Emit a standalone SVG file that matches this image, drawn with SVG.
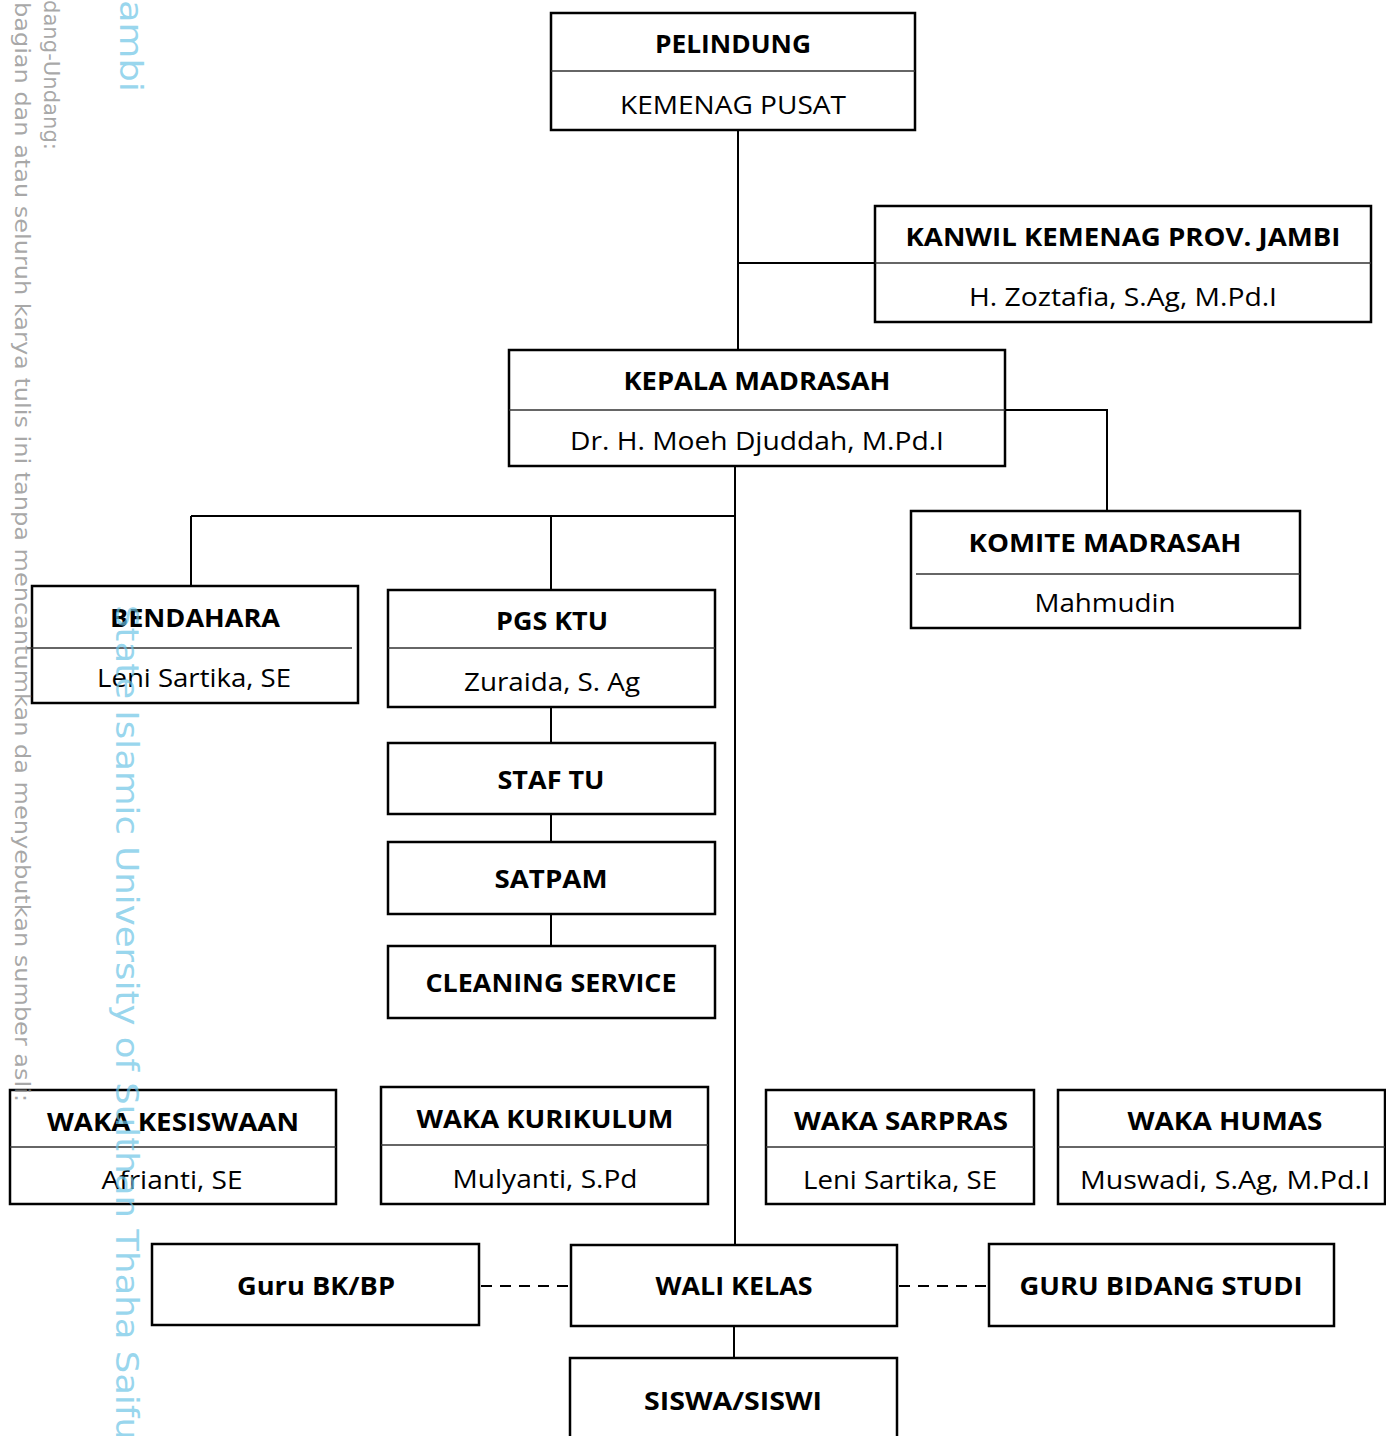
<svg xmlns="http://www.w3.org/2000/svg" width="1386" height="1436" viewBox="0 0 1386 1436">
<style>
.box{fill:#fff;stroke:#000;stroke-width:2.5}
.div{stroke:#333;stroke-width:1.5}
.t{font-family:"Open Sans","Liberation Sans",sans-serif;font-size:25px;font-weight:700;fill:#000;text-anchor:middle}
.n{font-family:"Open Sans","Liberation Sans",sans-serif;font-size:25px;font-weight:400;fill:#000;text-anchor:middle}
.c{fill:none;stroke:#000;stroke-width:2}
.d{fill:none;stroke:#000;stroke-width:2;stroke-dasharray:11 8}
.wg{font-family:"DejaVu Sans",sans-serif;font-size:22px;fill:#8c8c8c;fill-opacity:0.75}
.wb{font-family:"DejaVu Sans",sans-serif;font-size:32px;fill:#6cc4e6;fill-opacity:0.7}
</style>
<g id="connectors">
<path class="c" d="M738,130 V350"/>
<path class="c" d="M738,263 H875"/>
<path class="c" d="M1005,410 H1107 V511"/>
<path class="c" d="M735,466 V1245"/>
<path class="c" d="M191,516 H735"/>
<path class="c" d="M191,516 V590"/>
<path class="c" d="M551,516 V590"/>
<path class="c" d="M551,707 V743"/>
<path class="c" d="M551,814 V842"/>
<path class="c" d="M551,914 V946"/>
<path class="c" d="M734,1326 V1358"/>
<path class="d" d="M481,1286 H571"/>
<path class="d" d="M899,1286 H989"/>
</g>
<g id="pelindung">
<rect class="box" x="551" y="13" width="364" height="117"/>
<line class="div" x1="551" y1="71" x2="915" y2="71"/>
<text class="t" x="733" y="53" textLength="156" lengthAdjust="spacingAndGlyphs">PELINDUNG</text>
<text class="n" x="733" y="114" textLength="226" lengthAdjust="spacingAndGlyphs">KEMENAG PUSAT</text>
</g>
<g id="kanwil">
<rect class="box" x="875" y="206" width="496" height="116"/>
<line class="div" x1="875" y1="263" x2="1371" y2="263"/>
<text class="t" x="1123" y="246" textLength="435" lengthAdjust="spacingAndGlyphs">KANWIL KEMENAG PROV. JAMBI</text>
<text class="n" x="1123" y="306" textLength="308" lengthAdjust="spacingAndGlyphs">H. Zoztafia, S.Ag, M.Pd.I</text>
</g>
<g id="kepala">
<rect class="box" x="509" y="350" width="496" height="116"/>
<line class="div" x1="509" y1="410" x2="1005" y2="410"/>
<text class="t" x="757" y="390" textLength="267" lengthAdjust="spacingAndGlyphs">KEPALA MADRASAH</text>
<text class="n" x="757" y="450" textLength="374" lengthAdjust="spacingAndGlyphs">Dr. H. Moeh Djuddah, M.Pd.I</text>
</g>
<g id="komite">
<rect class="box" x="911" y="511" width="389" height="117"/>
<line class="div" x1="916" y1="574" x2="1300" y2="574"/>
<text class="t" x="1105" y="552" textLength="273" lengthAdjust="spacingAndGlyphs">KOMITE MADRASAH</text>
<text class="n" x="1105" y="612" textLength="141" lengthAdjust="spacingAndGlyphs">Mahmudin</text>
</g>
<g id="bendahara">
<rect class="box" x="32" y="586" width="326" height="117"/>
<line class="div" x1="27" y1="648" x2="352" y2="648"/>
<text class="t" x="195" y="627" textLength="170" lengthAdjust="spacingAndGlyphs">BENDAHARA</text>
<text class="n" x="194" y="687" textLength="194" lengthAdjust="spacingAndGlyphs">Leni Sartika, SE</text>
</g>
<g id="pgsktu">
<rect class="box" x="388" y="590" width="327" height="117"/>
<line class="div" x1="388" y1="648" x2="715" y2="648"/>
<text class="t" x="552" y="630" textLength="112" lengthAdjust="spacingAndGlyphs">PGS KTU</text>
<text class="n" x="552" y="691" textLength="176" lengthAdjust="spacingAndGlyphs">Zuraida, S. Ag</text>
</g>
<g id="staftu">
<rect class="box" x="388" y="743" width="327" height="71"/>
<text class="t" x="551" y="789" textLength="107" lengthAdjust="spacingAndGlyphs">STAF TU</text>
</g>
<g id="satpam">
<rect class="box" x="388" y="842" width="327" height="72"/>
<text class="t" x="551" y="888" textLength="113" lengthAdjust="spacingAndGlyphs">SATPAM</text>
</g>
<g id="cleaning">
<rect class="box" x="388" y="946" width="327" height="72"/>
<text class="t" x="551" y="992" textLength="251" lengthAdjust="spacingAndGlyphs">CLEANING SERVICE</text>
</g>
<g id="kesiswaan">
<rect class="box" x="10" y="1090" width="326" height="114"/>
<line class="div" x1="10" y1="1147" x2="336" y2="1147"/>
<text class="t" x="173" y="1131" textLength="252" lengthAdjust="spacingAndGlyphs">WAKA KESISWAAN</text>
<text class="n" x="172" y="1189" textLength="141" lengthAdjust="spacingAndGlyphs">Afrianti, SE</text>
</g>
<g id="kurikulum">
<rect class="box" x="381" y="1087" width="327" height="117"/>
<line class="div" x1="381" y1="1145" x2="708" y2="1145"/>
<text class="t" x="545" y="1128" textLength="257" lengthAdjust="spacingAndGlyphs">WAKA KURIKULUM</text>
<text class="n" x="545" y="1188" textLength="185" lengthAdjust="spacingAndGlyphs">Mulyanti, S.Pd</text>
</g>
<g id="sarpras">
<rect class="box" x="766" y="1090" width="268" height="114"/>
<line class="div" x1="766" y1="1147" x2="1034" y2="1147"/>
<text class="t" x="901" y="1130" textLength="214" lengthAdjust="spacingAndGlyphs">WAKA SARPRAS</text>
<text class="n" x="900" y="1189" textLength="194" lengthAdjust="spacingAndGlyphs">Leni Sartika, SE</text>
</g>
<g id="humas">
<rect class="box" x="1058" y="1090" width="327" height="114"/>
<line class="div" x1="1058" y1="1147" x2="1385" y2="1147"/>
<text class="t" x="1225" y="1130" textLength="195" lengthAdjust="spacingAndGlyphs">WAKA HUMAS</text>
<text class="n" x="1225" y="1189" textLength="290" lengthAdjust="spacingAndGlyphs">Muswadi, S.Ag, M.Pd.I</text>
</g>
<g id="gurubk">
<rect class="box" x="152" y="1244" width="327" height="81"/>
<text class="t" x="316" y="1295" textLength="158" lengthAdjust="spacingAndGlyphs">Guru BK/BP</text>
</g>
<g id="walikelas">
<rect class="box" x="571" y="1245" width="326" height="81"/>
<text class="t" x="734" y="1295" textLength="157" lengthAdjust="spacingAndGlyphs">WALI KELAS</text>
</g>
<g id="gurubidang">
<rect class="box" x="989" y="1244" width="345" height="82"/>
<text class="t" x="1161" y="1295" textLength="283" lengthAdjust="spacingAndGlyphs">GURU BIDANG STUDI</text>
</g>
<g id="siswa">
<rect class="box" x="570" y="1358" width="327" height="90"/>
<text class="t" x="733" y="1410" textLength="178" lengthAdjust="spacingAndGlyphs">SISWA/SISWI</text>
</g>
<g id="watermark">
<text class="wb" transform="translate(120,0) rotate(90)" textLength="92" lengthAdjust="spacingAndGlyphs">ambi</text>
<text class="wb" transform="translate(116,605) rotate(90)" textLength="835" lengthAdjust="spacingAndGlyphs">State Islamic University of Sulthan Thaha Saifu</text>
<text class="wg" transform="translate(44,0) rotate(90)" textLength="150" lengthAdjust="spacingAndGlyphs">dang-Undang:</text>
<text class="wg" transform="translate(15,2) rotate(90)" textLength="1100" lengthAdjust="spacingAndGlyphs">bagian dan atau seluruh karya tulis ini tanpa mencantumkan da menyebutkan sumber asli:</text>
</g>
</svg>
